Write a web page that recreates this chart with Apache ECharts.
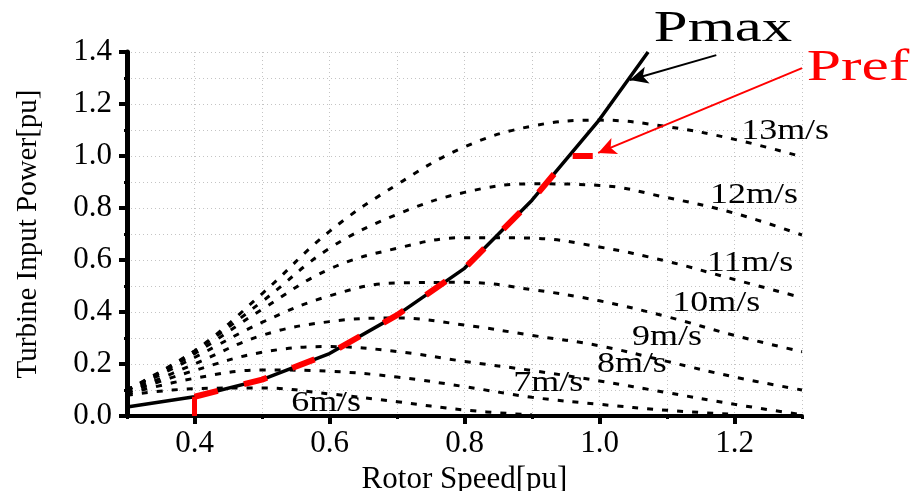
<!DOCTYPE html>
<html>
<head>
<meta charset="utf-8">
<script src="https://cdn.jsdelivr.net/npm/echarts@6/dist/echarts.min.js"></script>
<style>
  html, body { margin: 0; padding: 0; background: #fff; }
  #chart { width: 916px; height: 491px; }
</style>
</head>
<body>
<div id="chart"></div>
<script>
// rotor speed samples shared by the wind speed curves (pu)
const rotorSpeed = [0.3, 0.4, 0.5, 0.6, 0.7, 0.8, 0.9, 1.0, 1.1, 1.2, 1.3];

// turbine input power for each wind speed (pu)
const power6 = [0.08, 0.105, 0.108, 0.085, 0.055, 0.023, 0.004, null, null, null, null];
const power7 = [0.085, 0.145, 0.177, 0.172, 0.15, 0.113, 0.072, 0.045, 0.022, 0.006, null];
const power8 = [0.09, 0.175, 0.245, 0.267, 0.248, 0.21, 0.175, 0.135, 0.09, 0.045, 0.005];
const power9 = [0.09, 0.2, 0.31, 0.363, 0.377, 0.35, 0.31, 0.27, 0.21, 0.15, 0.1];
const power10 = [0.095, 0.225, 0.36, 0.462, 0.512, 0.514, 0.486, 0.443, 0.382, 0.31, 0.247];
const power11 = [0.1, 0.24, 0.41, 0.565, 0.645, 0.686, 0.684, 0.65, 0.595, 0.525, 0.455];
const power12 = [0.1, 0.25, 0.44, 0.645, 0.775, 0.86, 0.893, 0.887, 0.84, 0.78, 0.696];
const power13 = [0.1, 0.25, 0.47, 0.71, 0.89, 1.035, 1.115, 1.138, 1.113, 1.064, 0.997];

const windCurves = [power6, power7, power8, power9, power10, power11, power12, power13];
const windLabels = ["6m/s", "7m/s", "8m/s", "9m/s", "10m/s", "11m/s", "12m/s", "13m/s"];

// maximum power tracking curve
const pmaxSpeed = [0.3, 0.4, 0.5, 0.6, 0.7, 0.8, 0.9, 1.0, 1.072];
const pmaxPower = [0.035, 0.074, 0.14, 0.24, 0.388, 0.568, 0.83, 1.14, 1.4];

// reference power: starts at 0.4 pu speed, follows Pmax, limited at 1.0
const prefStartSpeed = [0.4, 0.4];
const prefStartPower = [0, 0.074];
const prefSpeed = [0.4, 0.5, 0.6, 0.7, 0.8, 0.9, 0.955, 0.99];
const prefPower = [0.074, 0.14, 0.24, 0.388, 0.568, 0.83, 1.0, 1.0];

const xTickValues = [0.4, 0.6, 0.8, 1.0, 1.2];

// where the text annotations sit, in data coordinates
const windLabelAt = [
  [0.595, 0.05], [0.924, 0.127], [1.048, 0.2], [1.1, 0.304],
  [1.173, 0.435], [1.223, 0.588], [1.229, 0.85], [1.275, 1.096]
];
const pmaxLabelAt = [1.183, 1.488];
const prefLabelAt = [1.383, 1.338];
const pmaxArrow = [[1.173, 1.388], [1.045, 1.292]];
const prefArrow = [[1.3, 1.338], [0.998, 1.012]];

const serif = "'Liberation Serif', 'Times New Roman', serif";

function pairs(xs, ys) {
  return xs.map((x, i) => [x, ys[i]]).filter((p) => p[1] !== null);
}

const chart = echarts.init(document.getElementById("chart"));

const gridLine = { show: true, lineStyle: { color: "#c4c4c4", width: 1, type: [1, 3] } };

const series = windCurves.map((values, i) => ({
  name: windLabels[i],
  type: "line",
  data: pairs(rotorSpeed, values),
  smooth: 0.4,
  showSymbol: false,
  silent: true,
  z: 2,
  lineStyle: { color: "#000", width: 3, type: [6, 9] }
}));

series.push({
  name: "Pmax",
  type: "line",
  data: pairs(pmaxSpeed, pmaxPower),
  showSymbol: false,
  silent: true,
  z: 3,
  lineStyle: { color: "#000", width: 3.5 }
});

series.push({
  name: "Pref start",
  type: "line",
  data: pairs(prefStartSpeed, prefStartPower),
  showSymbol: false,
  silent: true,
  z: 4,
  lineStyle: { color: "#ff0000", width: 5 }
});

series.push({
  name: "Pref",
  type: "line",
  data: pairs(prefSpeed, prefPower),
  showSymbol: false,
  silent: true,
  z: 4,
  lineStyle: { color: "#ff0000", width: 6, type: [24, 27] }
});

function arrowSeries(name, points, color) {
  return {
    name: name,
    type: "line",
    data: [],
    clip: false,
    z: 5,
    markLine: {
      silent: true,
      animation: false,
      symbol: ["none", "arrow"],
      symbolSize: [13, 18],
      label: { show: false },
      itemStyle: { color: color },
      lineStyle: { color: color, width: 2, type: "solid" },
      data: [[{ coord: points[0] }, { coord: points[1] }]]
    }
  };
}
series.push(arrowSeries("Pmax arrow", pmaxArrow, "#000"));
series.push(arrowSeries("Pref arrow", prefArrow, "#ff0000"));

chart.setOption({
  animation: false,
  backgroundColor: "#fff",
  grid: { left: 127, right: 114, top: 52, bottom: 75, outerBoundsMode: "none", containLabel: false },
  xAxis: [
    {
      type: "value",
      min: 0.3,
      max: 1.3,
      interval: 0.1,
      axisLine: { show: true, lineStyle: { color: "#000", width: 4 } },
      axisTick: { show: true, length: 3, lineStyle: { color: "#000", width: 3 } },
      axisLabel: { show: false },
      splitLine: gridLine
    },
    {
      type: "value",
      position: "bottom",
      min: 0.3,
      max: 1.3,
      axisLine: { show: false },
      axisTick: { show: true, customValues: xTickValues, length: 8, lineStyle: { color: "#000", width: 4 } },
      axisLabel: {
        show: true,
        customValues: xTickValues,
        margin: 12,
        color: "#000",
        fontFamily: serif,
        fontSize: 31,
        formatter: (v) => v.toFixed(1)
      },
      splitLine: { show: false },
      name: "Rotor Speed[pu]",
      nameLocation: "middle",
      nameGap: 43,
      nameTextStyle: { color: "#000", fontFamily: serif, fontSize: 31 }
    }
  ],
  yAxis: {
    type: "value",
    min: 0,
    max: 1.4,
    interval: 0.2,
    axisLine: { show: true, lineStyle: { color: "#000", width: 5 } },
    axisTick: { show: true, length: 8, lineStyle: { color: "#000", width: 4 } },
    minorTick: { show: true, splitNumber: 2, length: 3, lineStyle: { color: "#000", width: 3 } },
    axisLabel: {
      margin: 15,
      color: "#000",
      fontFamily: serif,
      fontSize: 31,
      formatter: (v) => v.toFixed(1)
    },
    splitLine: gridLine,
    minorSplitLine: gridLine,
    name: "Turbine Input Power[pu]",
    nameLocation: "middle",
    nameGap: 84,
    nameTextStyle: { color: "#000", fontFamily: serif, fontSize: 29 }
  },
  series: series
});

function toPx(p) {
  return chart.convertToPixel({ xAxisIndex: 0, yAxisIndex: 0 }, p);
}

function textAt(p, text, size, color, sx) {
  const px = toPx(p);
  return {
    type: "text",
    x: px[0],
    y: px[1],
    scaleX: sx,
    silent: true,
    z: 10,
    style: {
      text: text,
      fill: color,
      font: size + "px " + serif,
      align: "center",
      verticalAlign: "middle"
    }
  };
}

const graphics = windLabels.map((t, i) => textAt(windLabelAt[i], t, 29, "#000", 1.24));
graphics.push(textAt(pmaxLabelAt, "Pmax", 44, "#000", 1.38));
graphics.push(textAt(prefLabelAt, "Pref", 44, "#ff0000", 1.4));

chart.setOption({ graphic: graphics });
</script>
</body>
</html>
